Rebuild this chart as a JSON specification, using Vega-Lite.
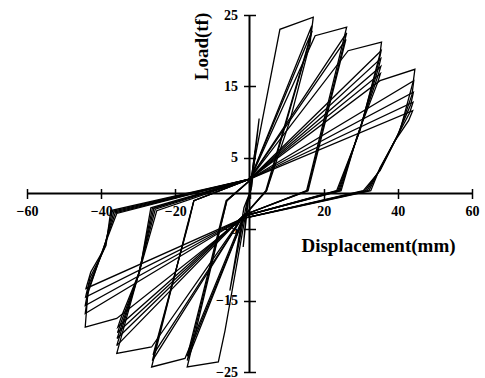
{
  "$schema": "https://vega.github.io/schema/vega-lite/v6.json",
  "width": 445,
  "height": 357,
  "autosize": "none",
  "padding": {"left": 27, "top": 15, "right": 13, "bottom": 6},
  "background": "white",
  "config": {"view": {"stroke": null}},
  "layer": [
    {
      "data": {"values": [
        {"c":0,"i":0,"x":0,"y":0},{"c":0,"i":1,"x":1.5,"y":6},{"c":0,"i":2,"x":0.4,"y":0.6},{"c":0,"i":3,"x":-0.6,"y":-1.2},{"c":0,"i":4,"x":-1.7,"y":-7.5},{"c":0,"i":5,"x":-0.3,"y":-0.8},{"c":0,"i":6,"x":0,"y":0},
        {"c":1,"i":0,"x":0,"y":0},{"c":1,"i":1,"x":2.6,"y":10.5},{"c":1,"i":2,"x":0.6,"y":1},{"c":1,"i":3,"x":-1,"y":-2},{"c":1,"i":4,"x":-5.3,"y":-13.6},{"c":1,"i":5,"x":-1.5,"y":-2},{"c":1,"i":6,"x":0,"y":0},
        {"c":2,"i":0,"x":0,"y":0},{"c":2,"i":1,"x":1,"y":3.7},{"c":2,"i":2,"x":8.2,"y":23.0},{"c":2,"i":3,"x":17.2,"y":24.7},{"c":2,"i":4,"x":16.3,"y":21},{"c":2,"i":5,"x":10.9,"y":10.2},{"c":2,"i":6,"x":4.6,"y":0.4},{"c":2,"i":7,"x":-1,"y":-2.8},{"c":2,"i":8,"x":-6.6,"y":-19.2},{"c":2,"i":9,"x":-8.4,"y":-23.6},{"c":2,"i":10,"x":-16.8,"y":-24.3},{"c":2,"i":11,"x":-6.1,"y":-1},{"c":2,"i":12,"x":0,"y":1.8},
        {"c":3,"i":0,"x":0,"y":1.8},{"c":3,"i":1,"x":16.8,"y":23.5},{"c":3,"i":2,"x":16.3,"y":21.5},{"c":3,"i":3,"x":4.6,"y":0.4},{"c":3,"i":4,"x":-1.2,"y":-3},{"c":3,"i":5,"x":-16.8,"y":-23.4},{"c":3,"i":6,"x":-6.1,"y":-1},{"c":3,"i":7,"x":0,"y":1.8},
        {"c":4,"i":0,"x":0,"y":1.8},{"c":4,"i":1,"x":16.9,"y":22.8},{"c":4,"i":2,"x":4.4,"y":0.4},{"c":4,"i":3,"x":-1.2,"y":-3},{"c":4,"i":4,"x":-16.8,"y":-22.8},{"c":4,"i":5,"x":-6.3,"y":-1},{"c":4,"i":6,"x":0,"y":1.8},
        {"c":5,"i":0,"x":0,"y":1.8},{"c":5,"i":1,"x":17.7,"y":22.1},{"c":5,"i":2,"x":26.2,"y":23.3},{"c":5,"i":3,"x":15.4,"y":0.4},{"c":5,"i":4,"x":-1.5,"y":-3},{"c":5,"i":5,"x":-17.4,"y":-23.1},{"c":5,"i":6,"x":-26.4,"y":-24.3},{"c":5,"i":7,"x":-16.9,"y":-4.7},{"c":5,"i":8,"x":-15,"y":-1},{"c":5,"i":9,"x":0,"y":2},
        {"c":6,"i":0,"x":0,"y":2},{"c":6,"i":1,"x":26.2,"y":22.5},{"c":6,"i":2,"x":15.6,"y":0.4},{"c":6,"i":3,"x":-1.5,"y":-3},{"c":6,"i":4,"x":-26.2,"y":-23.4},{"c":6,"i":5,"x":-16.7,"y":-4.5},{"c":6,"i":6,"x":-15,"y":-1},{"c":6,"i":7,"x":0,"y":2},
        {"c":7,"i":0,"x":0,"y":2},{"c":7,"i":1,"x":26.0,"y":21.6},{"c":7,"i":2,"x":15.8,"y":0.4},{"c":7,"i":3,"x":-1.5,"y":-3},{"c":7,"i":4,"x":-26.0,"y":-22.6},{"c":7,"i":5,"x":-16.5,"y":-4.3},{"c":7,"i":6,"x":-15,"y":-1},{"c":7,"i":7,"x":0,"y":2},
        {"c":8,"i":0,"x":0,"y":2},{"c":8,"i":1,"x":26.6,"y":20},{"c":8,"i":2,"x":35.6,"y":21.2},{"c":8,"i":3,"x":35.2,"y":19.6},{"c":8,"i":4,"x":29.8,"y":8.8},{"c":8,"i":5,"x":23.5,"y":0.4},{"c":8,"i":6,"x":-1.8,"y":-3.2},{"c":8,"i":7,"x":-26.4,"y":-21.5},{"c":8,"i":8,"x":-35.8,"y":-22.4},{"c":8,"i":9,"x":-30.4,"y":-12.2},{"c":8,"i":10,"x":-25,"y":-2.4},{"c":8,"i":11,"x":0,"y":2},
        {"c":9,"i":0,"x":0,"y":2},{"c":9,"i":1,"x":35.5,"y":20.0},{"c":9,"i":2,"x":34.9,"y":18.5},{"c":9,"i":3,"x":29.6,"y":8.6},{"c":9,"i":4,"x":23.8,"y":0.4},{"c":9,"i":5,"x":-1.8,"y":-3.2},{"c":9,"i":6,"x":-35.8,"y":-21.3},{"c":9,"i":7,"x":-34.8,"y":-19.6},{"c":9,"i":8,"x":-30.2,"y":-11.8},{"c":9,"i":9,"x":-25.4,"y":-2.2},{"c":9,"i":10,"x":0,"y":2},
        {"c":10,"i":0,"x":0,"y":2},{"c":10,"i":1,"x":35.4,"y":18.9},{"c":10,"i":2,"x":34.8,"y":17.6},{"c":10,"i":3,"x":29.4,"y":8.4},{"c":10,"i":4,"x":24.1,"y":0.4},{"c":10,"i":5,"x":-1.8,"y":-3.2},{"c":10,"i":6,"x":-35.7,"y":-20.3},{"c":10,"i":7,"x":-34.7,"y":-18.8},{"c":10,"i":8,"x":-30,"y":-11.5},{"c":10,"i":9,"x":-25.8,"y":-2.1},{"c":10,"i":10,"x":0,"y":2},
        {"c":11,"i":0,"x":0,"y":2},{"c":11,"i":1,"x":35.4,"y":17.8},{"c":11,"i":2,"x":34.7,"y":16.6},{"c":11,"i":3,"x":29.2,"y":8.2},{"c":11,"i":4,"x":24.4,"y":0.4},{"c":11,"i":5,"x":-1.8,"y":-3.2},{"c":11,"i":6,"x":-35.6,"y":-19.5},{"c":11,"i":7,"x":-34.6,"y":-18},{"c":11,"i":8,"x":-29.8,"y":-11.2},{"c":11,"i":9,"x":-26.2,"y":-2.1},{"c":11,"i":10,"x":0,"y":2},
        {"c":12,"i":0,"x":0,"y":2},{"c":12,"i":1,"x":35.3,"y":16.8},{"c":12,"i":2,"x":34.6,"y":15.6},{"c":12,"i":3,"x":29,"y":8},{"c":12,"i":4,"x":24.7,"y":0.4},{"c":12,"i":5,"x":-1.8,"y":-3.2},{"c":12,"i":6,"x":-35.5,"y":-18.7},{"c":12,"i":7,"x":-34.5,"y":-17.2},{"c":12,"i":8,"x":-29.6,"y":-10.9},{"c":12,"i":9,"x":-26.6,"y":-2},{"c":12,"i":10,"x":0,"y":2},
        {"c":13,"i":0,"x":0,"y":2},{"c":13,"i":1,"x":35.2,"y":15.8},{"c":13,"i":2,"x":44.6,"y":17.4},{"c":13,"i":3,"x":44.2,"y":15.8},{"c":13,"i":4,"x":40.6,"y":8.8},{"c":13,"i":5,"x":35.2,"y":3.2},{"c":13,"i":6,"x":30.7,"y":0.4},{"c":13,"i":7,"x":-1.8,"y":-3.5},{"c":13,"i":8,"x":-35.8,"y":-17.5},{"c":13,"i":9,"x":-44.3,"y":-18.7},{"c":13,"i":10,"x":-43.6,"y":-14},{"c":13,"i":11,"x":-40.3,"y":-8.9},{"c":13,"i":12,"x":-35.8,"y":-2.8},{"c":13,"i":13,"x":0,"y":2},
        {"c":14,"i":0,"x":0,"y":2},{"c":14,"i":1,"x":44.3,"y":15.8},{"c":14,"i":2,"x":43.8,"y":13.8},{"c":14,"i":3,"x":40.2,"y":8.4},{"c":14,"i":4,"x":35.2,"y":3.3},{"c":14,"i":5,"x":31.2,"y":0.4},{"c":14,"i":6,"x":-1.8,"y":-3.5},{"c":14,"i":7,"x":-44.3,"y":-16.8},{"c":14,"i":8,"x":-43.4,"y":-13.4},{"c":14,"i":9,"x":-39.9,"y":-8.5},{"c":14,"i":10,"x":-36.2,"y":-2.7},{"c":14,"i":11,"x":0,"y":2},
        {"c":15,"i":0,"x":0,"y":2},{"c":15,"i":1,"x":44.2,"y":14.2},{"c":15,"i":2,"x":43.5,"y":12.5},{"c":15,"i":3,"x":39.8,"y":8},{"c":15,"i":4,"x":35.2,"y":3.4},{"c":15,"i":5,"x":31.7,"y":0.4},{"c":15,"i":6,"x":-1.8,"y":-3.5},{"c":15,"i":7,"x":-44.3,"y":-15.7},{"c":15,"i":8,"x":-43.2,"y":-12.6},{"c":15,"i":9,"x":-39.5,"y":-8.1},{"c":15,"i":10,"x":-36.6,"y":-2.6},{"c":15,"i":11,"x":0,"y":2},
        {"c":16,"i":0,"x":0,"y":2},{"c":16,"i":1,"x":44.1,"y":12.8},{"c":16,"i":2,"x":43.2,"y":11.3},{"c":16,"i":3,"x":39.4,"y":7.6},{"c":16,"i":4,"x":35.2,"y":3.5},{"c":16,"i":5,"x":32.2,"y":0.4},{"c":16,"i":6,"x":-1.8,"y":-3.5},{"c":16,"i":7,"x":-44.2,"y":-14.5},{"c":16,"i":8,"x":-43,"y":-11.8},{"c":16,"i":9,"x":-39.1,"y":-7.7},{"c":16,"i":10,"x":-37,"y":-2.5},{"c":16,"i":11,"x":0,"y":2},
        {"c":17,"i":0,"x":0,"y":2},{"c":17,"i":1,"x":44,"y":11.6},{"c":17,"i":2,"x":42.9,"y":10.2},{"c":17,"i":3,"x":39,"y":7.2},{"c":17,"i":4,"x":35.2,"y":3.6},{"c":17,"i":5,"x":32.7,"y":0.4},{"c":17,"i":6,"x":-1.8,"y":-3.5},{"c":17,"i":7,"x":-44.1,"y":-13.3},{"c":17,"i":8,"x":-42.8,"y":-11},{"c":17,"i":9,"x":-38.7,"y":-7.3},{"c":17,"i":10,"x":-37.4,"y":-2.4},{"c":17,"i":11,"x":0,"y":2}
      ]},
      "mark": {"type": "line", "color": "black", "strokeWidth": 1.3, "strokeJoin": "miter"},
      "encoding": {
        "x": {
          "field": "x", "type": "quantitative",
          "scale": {"domain": [-60, 60], "nice": false, "zero": false},
          "axis": {
            "values": [-60,-50,-40,-30,-20,-10,0,10,20,30,40,50,60],
            "labelExpr": "datum.value == 0 || datum.value % 20 != 0 ? '' : datum.label",
            "offset": -183.5, "domain": false, "grid": false, "zindex": 1,
            "tickSize": 10, "tickWidth": 1.5, "tickColor": "black",
            "labelFont": "Liberation Serif", "labelFontWeight": "bold", "labelFontSize": 14, "labelColor": "black",
            "labelPadding": 6, "labelFlush": false, "labelOverlap": false, "labelBound": false,
            "title": "Displacement(mm)", "titleFont": "Liberation Serif", "titleFontWeight": "bold", "titleFontSize": 19, "titleColor": "black",
            "titleX": 351, "titleY": 56.5, "titleAlign": "center", "titleBaseline": "middle", "titleAnchor": null
          }
        },
        "y": {
          "field": "y", "type": "quantitative",
          "scale": {"domain": [-25, 25], "nice": false, "zero": false},
          "axis": {
            "values": [-25,-20,-15,-10,-5,0,5,10,15,20,25],
            "labelExpr": "abs(datum.value) % 10 == 5 ? datum.label : ''",
            "offset": -228.5, "domain": false, "grid": false, "zindex": 1,
            "tickSize": 12, "tickWidth": 1.5, "tickColor": "black",
            "labelFont": "Liberation Serif", "labelFontWeight": "bold", "labelFontSize": 14, "labelColor": "black",
            "labelPadding": 6, "labelFlush": false, "labelOverlap": false, "labelBound": false,
            "title": "Load(tf)", "titleFont": "Liberation Serif", "titleFontWeight": "bold", "titleFontSize": 19, "titleColor": "black",
            "titleX": -54.5, "titleY": 31, "titleAngle": -90, "titleAlign": "center", "titleBaseline": "middle", "titleAnchor": null
          }
        },
        "detail": {"field": "c", "type": "nominal"},
        "order": {"field": "i", "type": "quantitative"}
      }
    },
    {
      "data": {"values": [{}]},
      "mark": {"type": "rule", "color": "black", "strokeWidth": 2},
      "encoding": {"y": {"datum": 0}}
    },
    {
      "data": {"values": [{}]},
      "mark": {"type": "rule", "color": "black", "strokeWidth": 2},
      "encoding": {"x": {"datum": 0}}
    }
  ]
}
